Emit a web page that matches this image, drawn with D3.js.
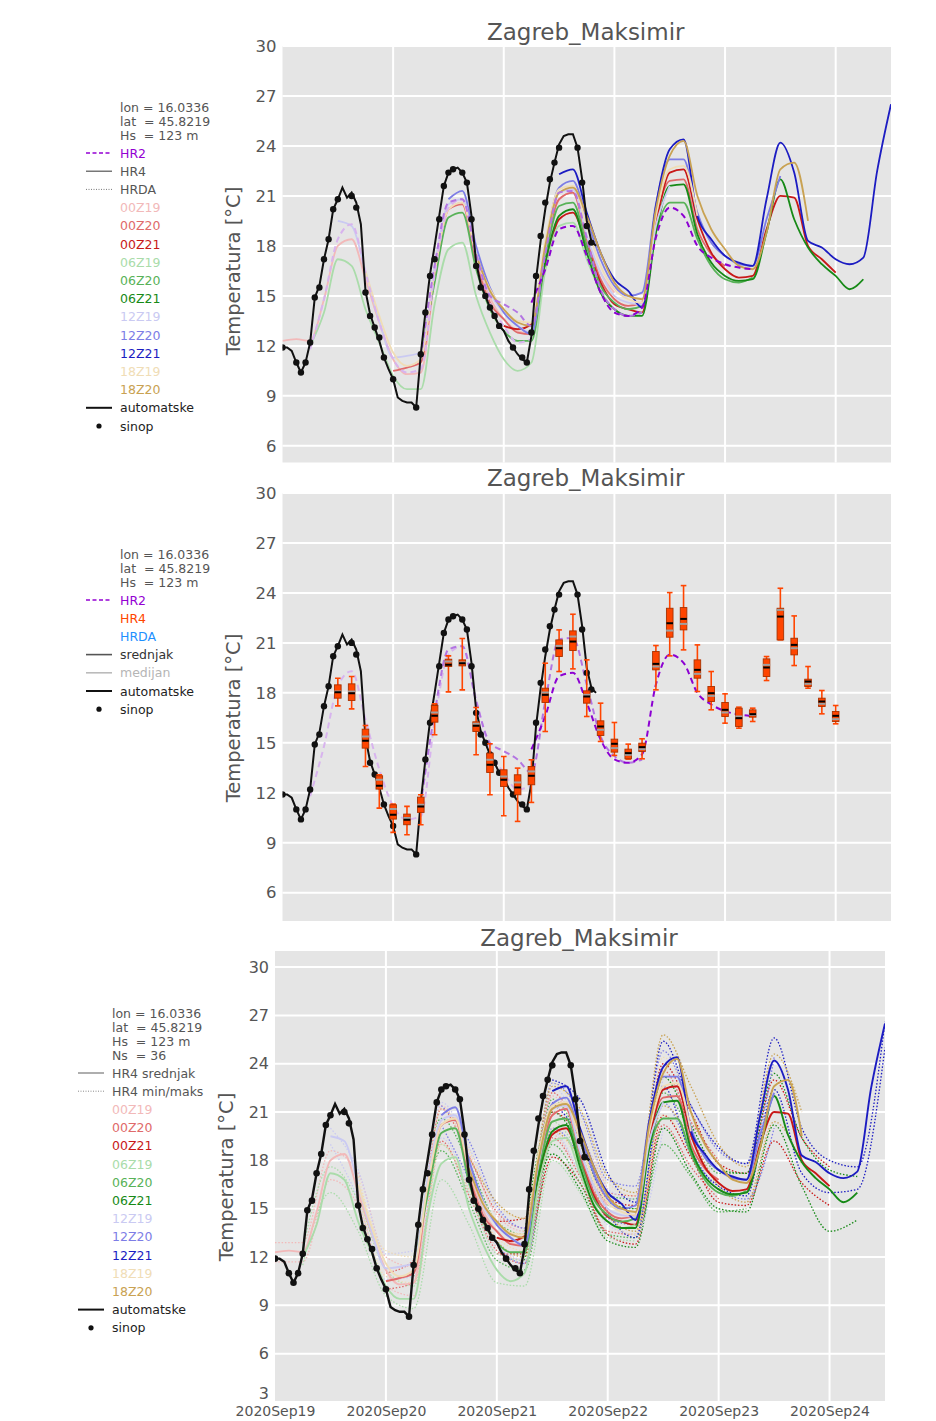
<!DOCTYPE html>
<html>
<head>
<meta charset="utf-8">
<script src="https://cdn.jsdelivr.net/npm/d3@7"></script>
<style>
body { margin: 0; background: #fff; }
text { font-family: "DejaVu Sans", sans-serif; white-space: pre; }
</style>
</head>
<body>
<svg id="chart" width="936" height="1421"></svg>
<script>
// station info lines
var stationInfo = ["lon = 16.0336", "lat  = 45.8219", "Hs  = 123 m"];
var membersInfo = "Ns  = 36";

// observations, hourly from 2020-09-19 00 UTC
var automatske = [11.9, 11.9, 11.7, 11.0, 10.4, 11.0, 12.2, 14.9, 15.6, 17.2,
                  18.4, 20.2, 20.8, 21.5, 20.9, 21.2, 20.6, 19.3, 15.3, 13.9,
                  13.1, 12.3, 11.3, 10.6, 10.0, 8.9, 8.7, 8.6, 8.6, 8.3,
                  11.5, 14.0, 16.3, 18.0, 19.8, 21.6, 22.4, 22.6, 22.7, 22.4,
                  21.8, 19.8, 17.0, 15.7, 15.0, 14.3, 13.8, 13.2, 12.9, 12.3,
                  11.9, 11.5, 11.2, 11.0, 12.6, 16.0, 18.3, 20.2, 21.8, 23.0,
                  24.1, 24.6, 24.7, 24.7, 23.9, 22.0, 19.5, 18.3, 18.0];

// synop observations [hour, temp]
var sinop = [[0,11.9],[3,11.0],[4,10.4],[5,11.0],[6,12.2],[7,14.9],[8,15.5],[9,17.2],[10,18.4],[11,20.2],
             [12,20.8],[15,21.0],[16,20.3],[18,15.2],[19,13.8],[20,13.1],[21,12.5],[22,11.3],[24,10.0],[29,8.3],
             [30,11.5],[31,14.0],[32,16.2],[33,17.2],[34,19.6],[35,21.6],[36,22.4],[37,22.6],[39,22.4],[40,21.8],
             [41,19.6],[42,16.8],[43,15.5],[44,15.0],[45,14.3],[46,13.8],[47,13.2],[50,11.9],[52,11.3],[53,11.0],
             [54,12.8],[55,16.2],[56,18.6],[57,20.6],[58,22.0],[59,23.0],[60,23.9],[64,23.9],[65,21.8],[66,19.2],[67,18.2]];

// HR4 runs
var runNames  = ["00Z19","00Z20","00Z21","06Z19","06Z20","06Z21","12Z19","12Z20","12Z21","18Z19","18Z20"];
var runInit   = [0, 24, 48, 6, 30, 54, 12, 36, 60, 18, 42];
var runColors = ["#f2b9b9","#e06a6a","#c81818","#aadcaa","#58b258","#178a17","#cacaf2","#7d7de6","#1c1cc2","#f0ddb6","#c9a252"];

// HR4 srednjak, 3-hourly from run start
var hr4_00Z19 = [12.3, 12.4, 12.3, 14.8, 18.0, 18.4, 16.0, 13.4, 11.2, 10.3, 10.4, 16.0, 20.2, 20.6, 17.2, 14.9, 13.6, 12.9, 12.7, 17.6, 20.8, 21.2, 18.4, 16.4, 15.2];
var hr4_00Z20 = [10.5, 10.7, 11.0, 16.2, 20.2, 20.5, 17.0, 14.6, 13.6, 12.8, 12.7, 17.8, 20.8, 21.2, 18.4, 16.0, 14.8, 14.4, 14.6, 19.6, 21.9, 22.0, 19.0, 17.5, 16.8];
var hr4_00Z21 = [13.2, 13.0, 13.3, 16.8, 19.6, 20.0, 18.0, 15.8, 14.5, 14.2, 14.0, 19.2, 22.4, 22.6, 19.6, 17.6, 16.6, 16.1, 16.2, 19.0, 21.0, 20.9, 18.0, 17.2, 16.4];
var hr4_06Z19 = [12.0, 14.0, 17.2, 16.8, 14.2, 12.2, 10.2, 9.4, 9.4, 14.5, 17.8, 18.2, 15.0, 12.8, 11.2, 10.5, 11.0, 16.5, 19.2, 19.4, 17.2, 15.3, 14.2, 13.8, 14.0];
var hr4_06Z20 = [11.3, 15.8, 19.7, 20.0, 16.6, 14.2, 12.9, 12.3, 12.3, 17.2, 20.4, 20.6, 18.0, 15.6, 14.6, 14.2, 14.4, 18.8, 20.6, 20.6, 18.4, 16.8, 16.0, 15.8, 16.1];
var hr4_06Z21 = [12.6, 17.0, 19.8, 20.2, 17.6, 15.2, 14.2, 13.8, 13.8, 18.8, 21.6, 21.7, 18.7, 17.0, 16.2, 15.9, 16.0, 18.8, 22.0, 19.6, 17.9, 16.9, 16.2, 15.4, 16.0];
var hr4_12Z19 = [19.5, 19.2, 16.5, 13.5, 11.3, 11.4, 11.6, 16.8, 20.5, 20.8, 17.6, 15.2, 14.0, 13.2, 12.8, 17.8, 21.2, 21.4, 18.6, 16.4, 15.0, 14.6, 14.5, 19.2, 21.6];
var hr4_12Z20 = [20.8, 21.3, 18.0, 15.5, 14.0, 13.2, 12.7, 18.0, 21.5, 21.9, 19.6, 17.2, 15.6, 15.0, 15.2, 20.5, 23.2, 23.2, 20.0, 18.2, 17.4, 16.9, 16.8, 19.6, 22.2];
var hr4_12Z21 = [22.3, 22.6, 20.0, 17.6, 16.0, 15.3, 14.3, 20.4, 23.8, 24.4, 19.8, 18.4, 17.4, 17.0, 16.8, 20.8, 24.2, 22.4, 18.3, 17.9, 17.2, 16.9, 17.3, 22.5, 26.5];
var hr4_18Z19 = [16.5, 13.8, 11.6, 10.8, 11.2, 16.4, 20.2, 20.6, 17.4, 15.4, 14.2, 13.5, 13.4, 18.3, 21.4, 21.6, 19.2, 16.8, 15.4, 14.8, 14.6, 19.8, 22.6, 22.8, 19.8];
var hr4_18Z20 = [17.5, 15.3, 14.2, 13.4, 13.2, 18.0, 21.2, 21.5, 19.8, 17.6, 15.8, 15.0, 14.8, 20.2, 23.4, 24.3, 21.0, 19.0, 17.8, 16.8, 16.6, 18.8, 22.6, 23.0, 19.5];

// HR4 min / maks, 6-hourly from run start
var min_00Z19 = [11.7, 11.7, 16.8, 15.2, 10.2, 9.6, 19.0, 16.2, 12.6, 11.8, 19.6, 17.2, 14.2];
var max_00Z19 = [12.9, 12.9, 18.6, 17.2, 12.0, 11.4, 21.4, 18.4, 14.6, 13.6, 22.0, 19.6, 16.2];
var min_00Z20 = [10.0, 10.4, 19.2, 15.8, 12.4, 11.6, 19.4, 17.0, 13.6, 13.4, 20.2, 17.6, 15.6];
var max_00Z20 = [11.0, 11.8, 21.2, 18.2, 14.8, 13.8, 22.2, 19.8, 16.0, 15.8, 23.6, 20.4, 18.0];
var min_00Z21 = [12.2, 12.2, 18.2, 16.6, 13.4, 12.8, 20.8, 18.2, 15.4, 15.2, 19.2, 16.6, 15.2];
var max_00Z21 = [14.2, 14.4, 21.0, 19.4, 15.6, 15.2, 24.0, 21.0, 17.8, 17.2, 23.0, 19.4, 17.6];
var min_06Z19 = [11.5, 16.0, 13.6, 9.6, 8.8, 16.8, 14.0, 10.4, 10.2, 18.0, 16.0, 13.2, 13.0];
var max_06Z19 = [12.5, 17.6, 15.5, 11.2, 10.2, 19.0, 16.0, 12.2, 11.8, 20.4, 18.4, 15.2, 15.0];
var min_06Z20 = [10.8, 18.6, 15.4, 11.8, 11.2, 19.0, 16.6, 13.4, 13.2, 19.0, 17.0, 14.8, 15.0];
var max_06Z20 = [11.8, 20.6, 17.8, 14.2, 13.4, 21.8, 19.4, 15.8, 15.6, 22.2, 19.8, 17.2, 17.2];
var min_06Z21 = [11.8, 18.4, 16.2, 13.0, 12.6, 20.0, 17.2, 15.0, 14.8, 20.2, 16.4, 13.6, 14.3];
var max_06Z21 = [13.4, 21.0, 19.0, 15.4, 15.0, 23.2, 20.2, 17.4, 17.2, 23.4, 19.4, 17.4, 17.0];
var min_12Z19 = [19.0, 15.6, 10.6, 10.8, 19.4, 16.4, 13.0, 11.8, 19.8, 17.2, 14.0, 13.4, 20.0];
var max_12Z19 = [20.0, 17.4, 12.2, 12.4, 21.6, 18.8, 15.0, 13.8, 22.6, 20.0, 16.2, 15.6, 23.2];
var min_12Z20 = [20.2, 16.8, 12.8, 11.6, 20.0, 18.2, 14.4, 14.0, 21.6, 18.6, 16.2, 15.6, 20.0];
var max_12Z20 = [21.4, 19.2, 15.2, 13.8, 22.8, 21.0, 16.8, 16.4, 24.8, 21.4, 18.6, 17.8, 24.4];
var min_12Z21 = [21.6, 19.4, 14.8, 13.2, 22.6, 18.4, 16.4, 15.8, 22.4, 17.2, 16.0, 16.2, 25.0];
var max_12Z21 = [23.0, 21.8, 17.2, 15.4, 25.4, 21.4, 18.8, 17.8, 25.6, 20.0, 18.0, 17.6, 26.6];
var min_18Z19 = [16.0, 10.8, 10.4, 19.0, 16.2, 13.2, 12.4, 20.0, 17.8, 14.2, 13.4, 20.8, 18.4];
var max_18Z19 = [17.0, 12.4, 12.0, 21.2, 18.6, 15.2, 14.4, 22.8, 20.6, 16.6, 15.8, 24.4, 21.2];
var min_18Z20 = [16.8, 13.0, 12.0, 19.8, 18.2, 14.6, 13.6, 21.4, 19.4, 16.4, 15.4, 20.4, 17.8];
var max_18Z20 = [18.2, 15.4, 14.4, 22.6, 21.2, 17.0, 16.0, 25.8, 22.6, 19.0, 17.6, 24.6, 21.0];

// HR2 runs, 3-hourly from run start
var hr2Names  = ["06Z19", "06Z20", "06Z21"];
var hr2Init   = [6, 30, 54];
var hr2Colors = ["#d8b4ee", "#b374e2", "#8c00d2"];
var hr2_06Z19 = [11.8, 14.8, 18.4, 19.3, 16.4, 13.4, 11.2, 10.4, 10.6, 16.3, 20.3, 20.8, 17.6, 14.6, 13.2, 12.2, 12.4];
var hr2_06Z20 = [11.3, 16.8, 20.6, 20.8, 17.5, 15.0, 14.5, 14.0, 13.2, 17.5, 21.2, 21.3, 18.5, 15.4, 14.2, 13.8, 14.0];
var hr2_06Z21 = [14.6, 16.6, 19.0, 19.2, 17.4, 15.2, 14.0, 13.8, 14.3, 18.5, 20.3, 19.8, 18.0, 17.3, 16.9, 16.7, 16.6];

// HR4 ensemble boxes, every 3 h from 12 to 120
var boxHours  = [12,15,18,21,24,27,30,33,36,39,42,45,48,51,54,57,60,63,66,69,72,75,78,81,84,87,90,93,96,99,102,105,108,111,114,117,120];
var boxLow    = [17.22,17.04,13.58,11.08,9.62,9.48,10.08,15.48,18.06,18.18,14.28,11.88,10.62,10.28,11.42,15.68,19.28,19.44,16.58,15.08,14.24,14.02,14.04,18.18,20.22,20.58,18.08,16.98,16.18,15.88,16.28,18.74,21.18,19.64,18.28,16.74,16.14];
var boxQ1     = [17.68,17.54,14.68,12.22,10.42,10.08,10.82,16.24,19.58,19.62,15.68,13.22,12.38,11.88,12.48,17.42,20.18,20.54,17.38,15.44,14.44,14.04,14.48,19.38,21.34,21.78,18.88,17.48,16.58,15.98,16.54,18.98,21.18,20.28,18.38,17.18,16.28];
var boxMean   = [18.04,17.98,15.12,12.42,10.68,10.38,11.18,16.62,19.68,19.78,16.02,13.68,12.78,12.32,13.02,17.88,20.68,21.08,17.78,15.98,14.94,14.38,14.74,19.74,22.18,22.44,19.38,17.98,16.98,16.48,16.72,19.52,22.58,20.88,18.68,17.48,16.62];
var boxMedian = [18.08,18.08,15.38,12.78,11.02,10.48,11.28,16.82,19.88,19.82,16.14,13.98,12.98,12.62,13.28,18.02,20.82,21.38,17.88,15.78,14.68,14.28,14.62,19.58,21.74,22.14,19.14,17.82,16.82,16.58,16.68,19.68,22.98,20.68,18.54,17.34,16.42];
var boxQ3     = [18.48,18.54,15.82,13.02,11.28,10.72,11.74,17.24,20.02,19.98,16.26,14.38,13.38,13.08,13.58,18.28,21.18,21.72,18.12,16.32,15.22,14.62,14.98,20.48,23.08,23.12,19.98,18.38,17.42,17.08,16.98,20.04,23.08,21.28,18.82,17.68,16.88];
var boxHigh   = [18.88,18.98,16.04,13.08,11.32,11.18,11.88,17.34,20.22,21.26,17.12,14.94,14.18,13.48,13.98,19.78,21.78,22.72,19.98,17.38,16.22,14.92,15.24,20.84,24.02,24.44,20.88,19.28,17.94,17.14,17.08,20.18,24.28,22.62,19.58,18.14,17.24];

var hr4Mean = [hr4_00Z19, hr4_00Z20, hr4_00Z21, hr4_06Z19, hr4_06Z20, hr4_06Z21, hr4_12Z19, hr4_12Z20, hr4_12Z21, hr4_18Z19, hr4_18Z20];
var hr4Min  = [min_00Z19, min_00Z20, min_00Z21, min_06Z19, min_06Z20, min_06Z21, min_12Z19, min_12Z20, min_12Z21, min_18Z19, min_18Z20];
var hr4Max  = [max_00Z19, max_00Z20, max_00Z21, max_06Z19, max_06Z20, max_06Z21, max_12Z19, max_12Z20, max_12Z21, max_18Z19, max_18Z20];
var hr2Vals = [hr2_06Z19, hr2_06Z20, hr2_06Z21];

var svg = d3.select("#chart");
var t0 = Date.UTC(2020, 8, 19);
function hd(h) { return new Date(t0 + h * 3600e3); }
function pts(init, step, vals) { return vals.map(function (v, i) { return [init + i * step, v]; }); }

var panels = [
    {left: 282.5, right: 891, top: 46, bottom: 462.5, ymin: 5, ymax: 30, ticks: [6,9,12,15,18,21,24,27,30],
     titleY: 40, labelX: 240, labelY: 271, legendX: 120, legendY: 107, tick: 16.5},
    {left: 282.5, right: 891, top: 493, bottom: 921, ymin: 4.3, ymax: 30, ticks: [6,9,12,15,18,21,24,27,30],
     titleY: 486, labelX: 240, labelY: 718, legendX: 120, legendY: 554, tick: 16.5},
    {left: 275, right: 885, top: 951, bottom: 1402, ymin: 3, ymax: 31, ticks: [3,6,9,12,15,18,21,24,27,30],
     titleY: 946, labelX: 233, labelY: 1177, legendX: 112, legendY: 1013, tick: 16}
];

function frame(p, idx) {
    p.x = d3.scaleUtc().domain([hd(0), hd(132)]).range([p.left, p.right]);
    p.y = d3.scaleLinear().domain([p.ymin, p.ymax]).range([p.bottom, p.top]);
    var g = svg.append("g");
    g.append("rect")
        .attr("x", p.left).attr("y", p.top)
        .attr("width", p.right - p.left).attr("height", p.bottom - p.top)
        .attr("fill", "#e5e5e5");
    g.selectAll(".hg").data(p.ticks).enter().append("line")
        .attr("x1", p.left).attr("x2", p.right)
        .attr("y1", function (d) { return p.y(d); }).attr("y2", function (d) { return p.y(d); })
        .attr("stroke", "#fff").attr("stroke-width", 2);
    g.selectAll(".vg").data(d3.utcDay.range(hd(1), hd(132))).enter().append("line")
        .attr("x1", function (d) { return p.x(d); }).attr("x2", function (d) { return p.x(d); })
        .attr("y1", p.top).attr("y2", p.bottom)
        .attr("stroke", "#fff").attr("stroke-width", 2);

    var ay = g.append("g").attr("transform", "translate(" + p.left + ",0)")
        .call(d3.axisLeft(p.y).tickValues(p.ticks).tickSize(0).tickPadding(6));
    ay.select(".domain").remove();
    ay.selectAll("text").attr("fill", "#555").style("font-size", p.tick + "px")
        .style("font-family", "DejaVu Sans")
        .attr("dy", function (d) { return d === 3 ? "-0.25em" : "0.32em"; });

    if (idx === 2) {
        var ax = g.append("g").attr("transform", "translate(0," + p.bottom + ")")
            .call(d3.axisBottom(p.x).ticks(d3.utcDay.every(1)).tickFormat(d3.utcFormat("%Y%b%d")).tickSize(0).tickPadding(4));
        ax.select(".domain").remove();
        ax.selectAll("text").attr("fill", "#555").style("font-size", "14px")
            .style("font-family", "DejaVu Sans");
    }

    svg.append("text").attr("x", (p.left + p.right) / 2 - 1).attr("y", p.titleY)
        .attr("text-anchor", "middle").attr("fill", "#555").style("font-size", "23px")
        .text("Zagreb_Maksimir");
    svg.append("text").attr("transform", "translate(" + p.labelX + "," + p.labelY + ") rotate(-90)")
        .attr("text-anchor", "middle").attr("fill", "#555").style("font-size", "19.5px")
        .text("Temperatura [°C]");

    var clipId = "clip" + idx;
    svg.append("clipPath").attr("id", clipId).append("rect")
        .attr("x", p.left).attr("y", p.top).attr("width", p.right - p.left).attr("height", p.bottom - p.top);
    p.plot = svg.append("g").attr("clip-path", "url(#" + clipId + ")");
    p.line = d3.line()
        .x(function (d) { return p.x(hd(d[0])); })
        .y(function (d) { return p.y(d[1]); })
        .curve(d3.curveMonotoneX);
}

panels.forEach(frame);

function drawObs(p, lw, r) {
    p.plot.append("path").datum(pts(0, 1, automatske))
        .attr("d", p.line.curve(d3.curveLinear))
        .attr("fill", "none").attr("stroke", "#111").attr("stroke-width", lw);
    p.line.curve(d3.curveMonotoneX);
    p.plot.selectAll(".sinop").data(sinop).enter().append("circle")
        .attr("cx", function (d) { return p.x(hd(d[0])); })
        .attr("cy", function (d) { return p.y(d[1]); })
        .attr("r", r).attr("fill", "#111");
}

function drawHr2(p) {
    hr2Vals.forEach(function (vals, i) {
        p.plot.append("path").datum(pts(hr2Init[i], 3, vals))
            .attr("d", p.line).attr("fill", "none")
            .attr("stroke", hr2Colors[i]).attr("stroke-width", 2)
            .attr("stroke-dasharray", "6,4");
    });
}

// panel 1
var p1 = panels[0];
hr4Mean.forEach(function (vals, i) {
    p1.plot.append("path").datum(pts(runInit[i], 3, vals))
        .attr("d", p1.line).attr("fill", "none")
        .attr("stroke", runColors[i]).attr("stroke-width", 1.8);
});
drawHr2(p1);
drawObs(p1, 2, 3.2);

// panel 2
var p2 = panels[1];
drawHr2(p2);
drawObs(p2, 2, 3.2);
var boxes = p2.plot.selectAll(".box").data(boxHours).enter().append("g");
boxes.append("line")
    .attr("x1", function (d) { return p2.x(hd(d)); }).attr("x2", function (d) { return p2.x(hd(d)); })
    .attr("y1", function (d, i) { return p2.y(boxLow[i]); }).attr("y2", function (d, i) { return p2.y(boxHigh[i]); })
    .attr("stroke", "#ff4500").attr("stroke-width", 1.6);
[boxLow, boxHigh].forEach(function (arr) {
    boxes.append("line")
        .attr("x1", function (d) { return p2.x(hd(d)) - 2.8; }).attr("x2", function (d) { return p2.x(hd(d)) + 2.8; })
        .attr("y1", function (d, i) { return p2.y(arr[i]); }).attr("y2", function (d, i) { return p2.y(arr[i]); })
        .attr("stroke", "#ff4500").attr("stroke-width", 1.6);
});
boxes.append("rect")
    .attr("x", function (d) { return p2.x(hd(d)) - 3.3; }).attr("width", 6.6)
    .attr("y", function (d, i) { return p2.y(boxQ3[i]); })
    .attr("height", function (d, i) { return p2.y(boxQ1[i]) - p2.y(boxQ3[i]); })
    .attr("fill", "#ff4500").attr("stroke", "#a83200").attr("stroke-width", 0.9);
boxes.append("line")
    .attr("x1", function (d) { return p2.x(hd(d)) - 3.6; }).attr("x2", function (d) { return p2.x(hd(d)) + 3.6; })
    .attr("y1", function (d, i) { return p2.y(boxMedian[i]); }).attr("y2", function (d, i) { return p2.y(boxMedian[i]); })
    .attr("stroke", "#a0a0a0").attr("stroke-width", 2);
boxes.append("line")
    .attr("x1", function (d) { return p2.x(hd(d)) - 3.3; }).attr("x2", function (d) { return p2.x(hd(d)) + 3.3; })
    .attr("y1", function (d, i) { return p2.y(boxMean[i]); }).attr("y2", function (d, i) { return p2.y(boxMean[i]); })
    .attr("stroke", "#000").attr("stroke-width", 2);

// panel 3
var p3 = panels[2];
hr4Min.forEach(function (vals, i) {
    [hr4Min[i], hr4Max[i]].forEach(function (arr) {
        p3.plot.append("path").datum(pts(runInit[i], 6, arr))
            .attr("d", p3.line).attr("fill", "none")
            .attr("stroke", runColors[i]).attr("stroke-width", 1.3)
            .attr("stroke-dasharray", "1.5,1.8");
    });
});
hr4Mean.forEach(function (vals, i) {
    p3.plot.append("path").datum(pts(runInit[i], 3, vals))
        .attr("d", p3.line).attr("fill", "none")
        .attr("stroke", runColors[i]).attr("stroke-width", 1.9);
});
drawObs(p3, 2.4, 3.3);

// legends
function legend(p, head, items) {
    var g = svg.append("g");
    var lx = p.legendX;
    head.forEach(function (t, i) {
        g.append("text").attr("x", lx).attr("y", p.legendY + i * 14 + 4.5)
            .attr("fill", "#555").style("font-size", "12.5px").text(t);
    });
    var y0 = p.legendY + head.length * 14 + 4;
    items.forEach(function (it, i) {
        var yy = y0 + i * 18.2;
        if (it.kind === "dot") {
            g.append("circle").attr("cx", lx - 21).attr("cy", yy).attr("r", 2.6).attr("fill", "#111");
        } else if (it.kind) {
            g.append("line").attr("x1", lx - 34).attr("x2", lx - 8).attr("y1", yy).attr("y2", yy)
                .attr("stroke", it.stroke).attr("stroke-width", it.w || 1.5)
                .attr("stroke-dasharray", it.kind === "dash" ? "4,2.5" :
                      it.kind === "dotted" ? "1,1.5" : null);
        }
        g.append("text").attr("x", lx).attr("y", yy + 4.5)
            .attr("fill", it.color).style("font-size", "12.5px").text(it.label);
    });
}

var runItems = runNames.map(function (n, i) { return {label: n, color: runColors[i]}; });
var obsItems = [{label: "automatske", color: "#222", kind: "solid", stroke: "#111", w: 2},
                {label: "sinop", color: "#222", kind: "dot"}];

legend(p1, stationInfo,
    [{label: "HR2", color: "#9400d3", kind: "dash", stroke: "#9400d3"},
     {label: "HR4", color: "#555", kind: "solid", stroke: "#555", w: 1.2},
     {label: "HRDA", color: "#555", kind: "dotted", stroke: "#777", w: 1}]
    .concat(runItems).concat(obsItems));

legend(p2, stationInfo,
    [{label: "HR2", color: "#9400d3", kind: "dash", stroke: "#9400d3"},
     {label: "HR4", color: "#ff4500"},
     {label: "HRDA", color: "#1e90ff"},
     {label: "srednjak", color: "#333", kind: "solid", stroke: "#555", w: 1.6},
     {label: "medijan", color: "#b5b5b5", kind: "solid", stroke: "#bbb", w: 1.6}]
    .concat(obsItems));

legend(p3, stationInfo.concat([membersInfo]),
    [{label: "HR4 srednjak", color: "#555", kind: "solid", stroke: "#777", w: 1.2},
     {label: "HR4 min/maks", color: "#555", kind: "dotted", stroke: "#888", w: 1}]
    .concat(runItems).concat(obsItems));
</script>
</body>
</html>
